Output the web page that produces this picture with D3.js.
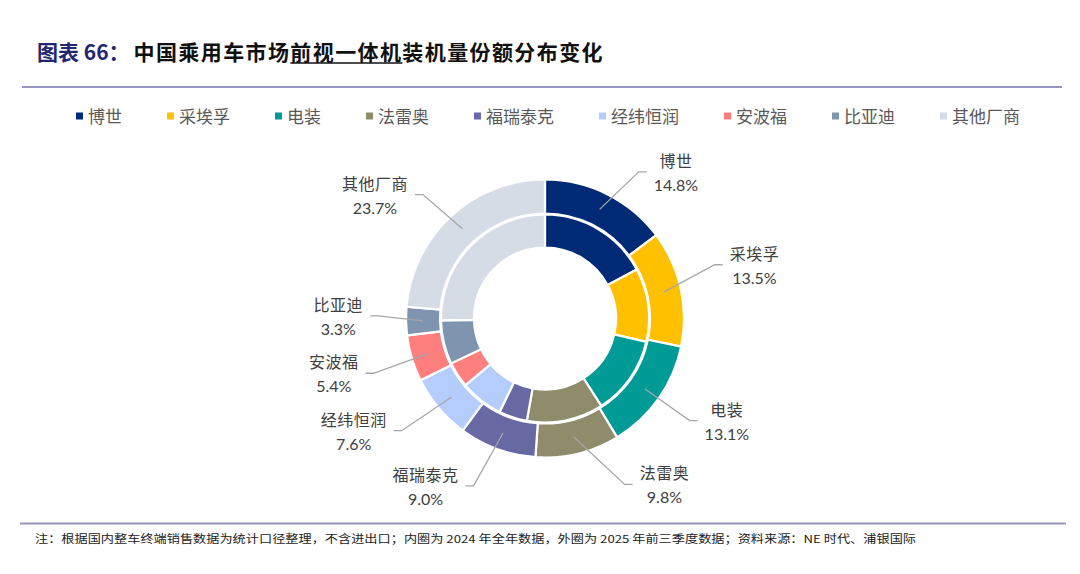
<!DOCTYPE html>
<html>
<head>
<meta charset="utf-8">
<script src="https://cdn.jsdelivr.net/npm/d3@7"></script>
<style>
  body { margin: 0; background: #fff; }
  svg { display: block; }
</style>
</head>
<body>
<svg id="chart" width="1080" height="574"></svg>
<script>
// categories and shares (%), outer ring = 2025 Q1-Q3, inner ring = 2024 full year
const companies = ['博世', '采埃孚', '电装', '法雷奥', '福瑞泰克', '经纬恒润', '安波福', '比亚迪', '其他厂商'];
const share2025 = [14.8, 13.5, 13.1, 9.8, 9.0, 7.6, 5.4, 3.3, 23.7];
const share2024 = [17.2, 11.4, 12.3, 11.9, 4.4, 6.7, 4.0, 6.8, 25.3];
const palette = ['#002a76', '#ffc000', '#009b97', '#8f8c6b', '#6868a3', '#b4cdfd', '#ff7f7f', '#7f94ae', '#d5dce6'];

// label placement tweaks (deg shift from slice middle, elbow radius)
const labelShift = [6, -5, 0, -12, 3, 2, -1, 2, -2];
const labelR = [174, 178, 177, 184, 182, 182, 180, 167, 174];

const svg = d3.select('#chart');
const cjk = '"Noto Sans CJK SC", "Noto Sans", sans-serif';
const numFont = 'Lato, "Open Sans", sans-serif';

// title
const title = svg.append('g').attr('font-family', cjk).attr('font-weight', 700).attr('font-size', 21);
const t1 = title.append('text').attr('x', 37).attr('y', 59.5).attr('fill', '#22276f').text('图表 66：');
let tx = 37 + t1.node().getComputedTextLength() + 4;
const titleParts = [['中国乘用车市场', false], ['前视一体机', true], ['装机量份额分布变化', false]];
titleParts.forEach(([s, underline]) => {
  const t = title.append('text').attr('x', tx).attr('y', 59.5).attr('fill', '#111').attr('letter-spacing', 1.4).text(s);
  const w = t.node().getComputedTextLength();
  if (underline) {
    title.append('line').attr('x1', tx).attr('x2', tx + w).attr('y1', 63).attr('y2', 63)
      .attr('stroke', '#111').attr('stroke-width', 1.3);
  }
  tx += w;
});

svg.append('line').attr('x1', 22).attr('x2', 1062).attr('y1', 87).attr('y2', 87)
  .attr('stroke', '#9794bf').attr('stroke-width', 2);

// legend
const legend = svg.append('g').attr('font-family', cjk).attr('font-size', 17).attr('fill', '#595959');
const items = legend.selectAll('g').data(companies).join('g');
items.append('rect').attr('width', 7).attr('height', 7).attr('y', 112.5).attr('fill', (d, i) => palette[i]);
items.append('text').attr('x', 12).attr('y', 122.5).text(d => d);
let lx = 0;
const legendGap = 45;
items.each(function() {
  const g = d3.select(this);
  g.attr('transform', `translate(${lx},0)`);
  lx += 12 + g.select('text').node().getComputedTextLength() + legendGap;
});
lx -= legendGap;
legend.attr('transform', `translate(${548 - lx / 2},0)`);

// doughnut
const cx = 545, cy = 318.5;
const pie = d3.pie().sort(null).value(d => d);
const outerArc = d3.arc().innerRadius(105).outerRadius(139);
const innerArc = d3.arc().innerRadius(71).outerRadius(104);
const midArc = d3.arc().innerRadius(122).outerRadius(122);

const donut = svg.append('g').attr('transform', `translate(${cx},${cy})`);

donut.append('g').selectAll('path')
  .data(pie(share2024))
  .join('path')
  .attr('d', innerArc)
  .attr('fill', (d, i) => palette[i])
  .attr('stroke', '#fff')
  .attr('stroke-width', 2.2);

const outerSlices = pie(share2025);
donut.append('g').selectAll('path')
  .data(outerSlices)
  .join('path')
  .attr('d', outerArc)
  .attr('fill', (d, i) => palette[i])
  .attr('stroke', '#fff')
  .attr('stroke-width', 2.2);

// data labels with leader lines
const labels = donut.append('g');
outerSlices.forEach((d, i) => {
  const mid = (d.startAngle + d.endAngle) / 2;
  const [sx, sy] = midArc.centroid(d);
  const a = mid + labelShift[i] * Math.PI / 180;
  const ex = Math.sin(a) * labelR[i];
  const ey = -Math.cos(a) * labelR[i];
  const right = a < Math.PI;
  const hx = ex + (right ? 8 : -8);

  labels.append('polyline')
    .attr('points', [[sx, sy], [ex, ey], [hx, ey]].map(p => p.join(',')).join(' '))
    .attr('fill', 'none')
    .attr('stroke', '#a6a6a6')
    .attr('stroke-width', 1.3);

  const g = labels.append('g').attr('fill', '#404040').attr('text-anchor', 'middle');
  const name = g.append('text').attr('y', ey - 5).attr('font-family', cjk).attr('font-size', 16)
    .attr('letter-spacing', 0.5).text(companies[i]);
  const pct = g.append('text').attr('y', ey + 19).attr('font-family', numFont).attr('font-size', 16)
    .text(d3.format('.1f')(share2025[i]) + '%');
  const w = Math.max(name.node().getComputedTextLength(), pct.node().getComputedTextLength());
  const c = right ? hx + 7 + w / 2 : hx - 7 - w / 2;
  name.attr('x', c);
  pct.attr('x', c);
});

// footer
svg.append('line').attr('x1', 20).attr('x2', 1066).attr('y1', 523.5).attr('y2', 523.5)
  .attr('stroke', '#9794bf').attr('stroke-width', 2);
svg.append('text')
  .attr('x', 35).attr('y', 542.5)
  .attr('font-family', cjk).attr('font-size', 11).attr('fill', '#222')
  .attr('textLength', 881).attr('lengthAdjust', 'spacingAndGlyphs')
  .text('注：根据国内整车终端销售数据为统计口径整理，不含进出口；内圈为 2024 年全年数据，外圈为 2025 年前三季度数据；资料来源：NE 时代、浦银国际');
</script>
</body>
</html>
